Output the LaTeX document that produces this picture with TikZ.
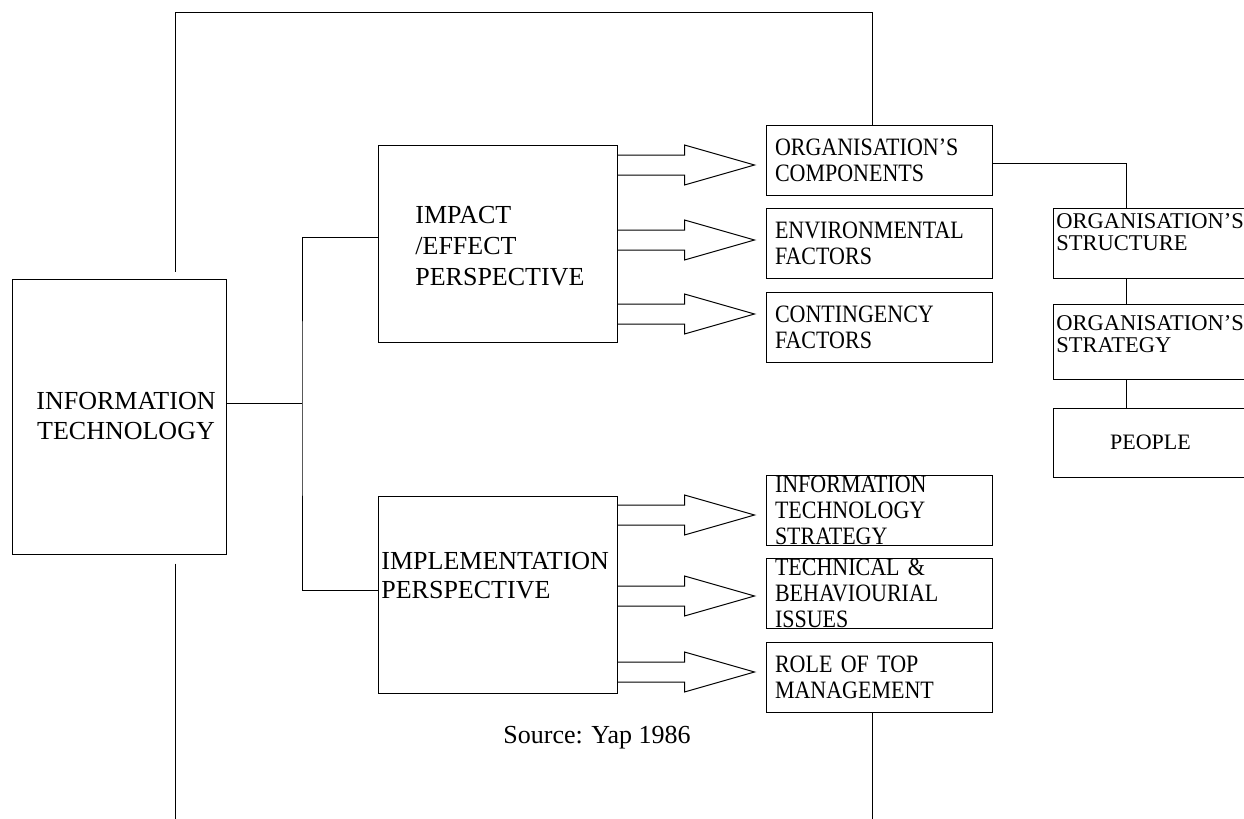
\documentclass[tikz,border=0pt]{standalone}
\usepackage{fontspec}
\setmainfont{Liberation Serif}
\newfontfamily\narrowserif{Liberation Serif}[Ligatures=TeX, FakeStretch=0.88]
\usepackage{tikz}

\tikzset{
  box/.style={draw, rectangle, inner sep=0pt, line width=0.5pt},
  colbox/.style={box, minimum width=113pt, minimum height=35pt, text width=104pt,
    inner xsep=4.5pt, align=left, font=\narrowserif\fontsize{12.5pt}{13pt}\selectfont},
  sidebox/.style={box, minimum width=97.5pt, minimum height=35pt},
  lbl/.style={inner sep=0pt, align=left},
  wire/.style={line width=0.5pt},
  fatarrow/.style={line width=0.5pt, line join=miter}
}

\begin{document}
\begin{tikzpicture}[x=0.5pt, y=-0.5pt]
\useasboundingbox (0,0) rectangle (1244,819);

% left and middle boxes
\node [box, minimum width=107pt, minimum height=137.5pt] (it) at (119,416.5) {};
\node [box, minimum width=119.5pt, minimum height=98.5pt] (impact) at (497.5,243.5) {};
\node [box, minimum width=119.5pt, minimum height=98.5pt] (impl) at (497.5,594.5) {};

\node [lbl, align=center, anchor=north, font=\fontsize{13pt}{15pt}\selectfont] (it-l) at (126,391.5) {INFORMATION\\TECHNOLOGY};
\node [lbl, anchor=north west, font=\fontsize{13pt}{15.5pt}\selectfont] (impact-l) at (415,206) {IMPACT\\/EFFECT\\PERSPECTIVE};
\node [lbl, anchor=north west, font=\fontsize{13pt}{14.5pt}\selectfont] (impl-l) at (381,552) {IMPLEMENTATION\\PERSPECTIVE};

% right column
\node [colbox] (comp) at (879,160) {ORGANISATION'S\\COMPONENTS};
\node [colbox] (env) at (879,243) {ENVIRONMENTAL\\FACTORS};
\node [colbox] (cont) at (879,327.5) {CONTINGENCY\\FACTORS};
\node [colbox] (itstrat) at (879,510) {INFORMATION\\TECHNOLOGY\\STRATEGY};
\node [colbox] (tech) at (879,593.5) {TECHNICAL \&\\BEHAVIOURIAL\\ISSUES};
\node [colbox] (role) at (879,677) {ROLE OF TOP\\MANAGEMENT};

% components, cut off at the edge
\node [sidebox] (struct) at (1150.5,243) {};
\node [lbl, anchor=north west, font=\fontsize{11.25pt}{11pt}\selectfont] (struct-l) at (1056,213) {ORGANISATION'S\\STRUCTURE};
\node [sidebox, minimum height=37.5pt] (strat) at (1150.5,341.5) {};
\node [lbl, anchor=north west, font=\fontsize{11.25pt}{11pt}\selectfont] (strat-l) at (1056,315) {ORGANISATION'S\\STRATEGY};
\node [sidebox, minimum height=34.5pt, font=\fontsize{11pt}{13pt}\selectfont] (people) at (1150.5,442.5) {PEOPLE};

\node [lbl, anchor=base west, font=\fontsize{13pt}{15pt}\selectfont] (src) at (503,743) {Source: Yap 1986};

\coordinate (ittop) at (175,12);
\coordinate (itbot) at (175,819);
\coordinate (rolebot) at (872,819);
\coordinate (fork) at (302,403);
\coordinate (spine) at (1126,163);

\draw [wire] ([yshift=3.5pt]it.north -| ittop) -- (ittop) -| ([xshift=-3.5pt]comp.north);
\draw [wire] ([yshift=-4.5pt]it.south -| itbot) -- (itbot);
\draw [wire] ([xshift=-3.5pt]role.south) -- (rolebot);
\draw [wire] (it.east |- fork) -- (fork);
\draw [wire] ([yshift=3pt]impact.west) -| (fork) |- ([yshift=2pt]impl.west);

\draw [wire] ([yshift=-1.5pt]comp.east) -| (struct.north -| spine);
\draw [wire] (struct.south -| spine) -- (strat.north -| spine);
\draw [wire] (strat.south -| spine) -- (people.north -| spine);

\foreach \src/\y in {impact/165, impact/240, impact/314, impl/515, impl/596, impl/672}
  \draw [fatarrow] (\src.east |- 0,\y-10) -- ++(67,0) -- ++(0,-10) -- ++(70,20) -- ++(-70,20) -- ++(0,-10) -- (\src.east |- 0,\y+10);

\end{tikzpicture}
\end{document}
